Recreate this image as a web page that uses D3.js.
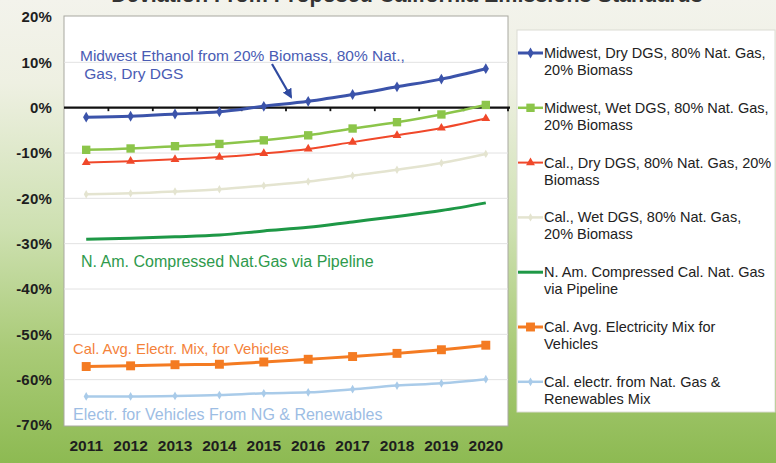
<!DOCTYPE html>
<html lang="en">
<head>
    <meta charset="UTF-8">
    <script src="https://cdn.jsdelivr.net/npm/d3@7"></script>
    <title>Deviation From Proposed California Emissions Standards</title>
    <style>
        body { margin: 0; overflow: hidden; }
        svg { display: block; font-family: "Liberation Sans", Arial, sans-serif; }
        .ylab { font-weight: bold; font-size: 15px; fill: #1e1e1e; letter-spacing: 0.2px; }
        .xlab { font-weight: bold; font-size: 15.5px; fill: #1e1e1e; }
        .legtext { font-size: 14.5px; fill: #222; }
    </style>
</head>
<body>
<div id="chart"></div>
<script>
    /*------------------- data --------------------*/
    const years = ["2011", "2012", "2013", "2014", "2015", "2016", "2017", "2018", "2019", "2020"];
    const yTicks = [20, 10, 0, -10, -20, -30, -40, -50, -60, -70];

    const midwestDry = [-2.1, -1.9, -1.4, -0.9, 0.3, 1.4, 2.9, 4.6, 6.3, 8.6];
    const midwestWet = [-9.3, -9.0, -8.5, -8.0, -7.2, -6.1, -4.6, -3.2, -1.5, 0.6];
    const calDry = [-12.1, -11.8, -11.4, -10.9, -10.1, -9.1, -7.6, -6.1, -4.5, -2.4];
    const calWet = [-19.1, -18.9, -18.5, -18.0, -17.2, -16.3, -15.0, -13.7, -12.2, -10.2];
    const cngPipeline = [-29.0, -28.8, -28.5, -28.1, -27.2, -26.4, -25.2, -24.0, -22.7, -21.0];
    const calElecMix = [-57.1, -56.95, -56.7, -56.6, -56.1, -55.5, -54.9, -54.2, -53.4, -52.4];
    const calElecNgRen = [-63.7, -63.7, -63.6, -63.4, -63.0, -62.8, -62.1, -61.3, -60.8, -59.9];

    const seriesNames = [
        ["Midwest, Dry DGS, 80% Nat. Gas,", "20% Biomass"],
        ["Midwest, Wet DGS, 80% Nat. Gas,", "20% Biomass"],
        ["Cal., Dry DGS, 80% Nat. Gas, 20%", "Biomass"],
        ["Cal., Wet DGS, 80% Nat. Gas,", "20% Biomass"],
        ["N. Am. Compressed Cal. Nat. Gas", "via Pipeline"],
        ["Cal. Avg. Electricity Mix for", "Vehicles"],
        ["Cal. electr. from Nat. Gas &", "Renewables Mix"]
    ];

    const series = [
        { values: midwestDry, color: "#3b53aa", width: 3, marker: "diamond", size: 34 },
        { values: midwestWet, color: "#8cc54a", width: 2.5, marker: "square", size: 70 },
        { values: calDry, color: "#f0482a", width: 2, marker: "triangle", size: 34 },
        { values: calWet, color: "#e4e4d0", width: 2.5, marker: "diamond", size: 20 },
        { values: cngPipeline, color: "#1e9846", width: 3, marker: null, size: 0 },
        { values: calElecMix, color: "#f47b22", width: 3, marker: "square", size: 80 },
        { values: calElecNgRen, color: "#a9cbe9", width: 2.5, marker: "diamond", size: 22 }
    ];

    /*------------------- svg setting --------------------*/
    const width = 776, height = 463;
    const plot = { left: 64, right: 508, top: 17, bottom: 425 };

    const svg = d3.select("#chart").append("svg")
        .attr("width", width)
        .attr("height", height);

    // background: cream at the top fading into green
    const defs = svg.append("defs");
    const bg = defs.append("linearGradient")
        .attr("id", "bg").attr("x1", 0).attr("y1", 0).attr("x2", 0).attr("y2", 1);
    bg.append("stop").attr("offset", "0%").attr("stop-color", "#f3f3ec");
    bg.append("stop").attr("offset", "18%").attr("stop-color", "#eef0e2");
    bg.append("stop").attr("offset", "50%").attr("stop-color", "#cde0b0");
    bg.append("stop").attr("offset", "75%").attr("stop-color", "#aacb78");
    bg.append("stop").attr("offset", "100%").attr("stop-color", "#8dba52");
    svg.append("rect").attr("width", width).attr("height", height).attr("fill", "url(#bg)");

    // title, cut off at the very top as in the original picture
    svg.append("text")
        .attr("x", 407).attr("y", 2)
        .attr("text-anchor", "middle")
        .attr("font-weight", "bold")
        .attr("font-size", 21.5)
        .attr("fill", "#333")
        .text("Deviation From Proposed California Emissions Standards");

    /*------------------- scales --------------------*/
    const x = d3.scaleBand().domain(years).range([plot.left, plot.right]);
    const y = d3.scaleLinear().domain([-70, 20]).range([plot.bottom, plot.top]);
    const cx = d => x(d) + x.bandwidth() / 2;

    // plot area
    svg.append("rect")
        .attr("x", plot.left).attr("y", plot.top - 1)
        .attr("width", plot.right - plot.left).attr("height", plot.bottom - plot.top + 2)
        .attr("fill", "#fff")
        .attr("stroke", "#a8a8a0").attr("stroke-width", 1);

    // grid lines
    svg.append("g").selectAll("line")
        .data(yTicks.filter(t => t !== 20 && t !== -70 && t !== 0))
        .join("line")
        .attr("x1", plot.left).attr("x2", plot.right)
        .attr("y1", d => y(d)).attr("y2", d => y(d))
        .attr("stroke", "#e2e2e2").attr("stroke-width", 1);

    // y axis labels
    const yAxis = d3.axisLeft(y).tickValues(yTicks).tickSize(0).tickPadding(12)
        .tickFormat(d => d + "%");
    svg.append("g")
        .attr("transform", `translate(${plot.left},0)`)
        .call(yAxis)
        .call(g => g.select(".domain").remove())
        .call(g => g.selectAll("text").attr("class", "ylab").attr("font-family", null).attr("font-size", null));

    // x axis labels
    const xAxis = d3.axisBottom(x).tickSize(0).tickPadding(0);
    svg.append("g")
        .attr("transform", `translate(0,${plot.bottom + 15})`)
        .call(xAxis)
        .call(g => g.select(".domain").remove())
        .call(g => g.selectAll("text").attr("class", "xlab").attr("font-family", null).attr("font-size", null));

    // zero line with tick marks at category boundaries
    svg.append("line")
        .attr("x1", plot.left).attr("x2", plot.right + 2)
        .attr("y1", y(0)).attr("y2", y(0))
        .attr("stroke", "#111").attr("stroke-width", 2.2);
    svg.append("g").selectAll("line")
        .data(years.slice(1))
        .join("line")
        .attr("x1", d => x(d)).attr("x2", d => x(d))
        .attr("y1", y(0)).attr("y2", y(0) + 3.5)
        .attr("stroke", "#111").attr("stroke-width", 1.8);
    svg.append("line")
        .attr("x1", plot.right).attr("x2", plot.right)
        .attr("y1", y(0)).attr("y2", y(0) + 3.5)
        .attr("stroke", "#111").attr("stroke-width", 1.8);

    /*------------------- lines --------------------*/
    const line = d3.line()
        .x((d, i) => cx(years[i]))
        .y(d => y(d))
        .curve(d3.curveMonotoneX);

    const symbolOf = m => m === "diamond" ? d3.symbolDiamond : m === "square" ? d3.symbolSquare : d3.symbolTriangle;

    // draw bottom series first so the upper ones sit on top
    series.slice().reverse().forEach(s => {
        svg.append("path")
            .attr("d", line(s.values))
            .attr("fill", "none")
            .attr("stroke", s.color)
            .attr("stroke-width", s.width);
        if (s.marker) {
            svg.append("g").selectAll("path")
                .data(s.values)
                .join("path")
                .attr("transform", (d, i) => `translate(${cx(years[i])},${y(d)})`)
                .attr("d", d3.symbol().type(symbolOf(s.marker)).size(s.size))
                .attr("fill", s.color);
        }
    });

    /*------------------- annotations --------------------*/
    const notes = [
        { lines: ["Midwest Ethanol from 20% Biomass, 80% Nat.,", " Gas, Dry DGS"], x: 80, y: 61, size: 15.5, color: "#4a5cb4" },
        { lines: ["N. Am. Compressed Nat.Gas via Pipeline"], x: 81, y: 267, size: 16, color: "#2e9a4c" },
        { lines: ["Cal. Avg. Electr. Mix, for Vehicles"], x: 73, y: 354, size: 14.8, color: "#f4823a" },
        { lines: ["Electr. for Vehicles From NG & Renewables"], x: 73, y: 420, size: 16, color: "#9dbde4" }
    ];
    notes.forEach(n => {
        const t = svg.append("text").attr("font-size", n.size).attr("fill", n.color)
            .attr("x", n.x).attr("y", n.y);
        n.lines.forEach((l, i) => {
            t.append("tspan").attr("x", n.x).attr("dy", i === 0 ? 0 : 18)
                .attr("xml:space", "preserve").text(l);
        });
    });

    // arrow from the ethanol note to the blue line
    defs.append("marker")
        .attr("id", "arrow").attr("viewBox", "0 0 10 10")
        .attr("refX", 8).attr("refY", 5)
        .attr("markerWidth", 4.5).attr("markerHeight", 4.5)
        .attr("orient", "auto")
        .append("path").attr("d", "M0,0L10,5L0,10z").attr("fill", "#2f4aa0");
    svg.append("line")
        .attr("x1", 272).attr("y1", 64).attr("x2", 291).attr("y2", 97)
        .attr("stroke", "#2f4aa0").attr("stroke-width", 2.2)
        .attr("marker-end", "url(#arrow)");

    /*------------------- legend --------------------*/
    const legend = svg.append("g");
    legend.append("rect")
        .attr("x", 517).attr("y", 30).attr("width", 258).attr("height", 382)
        .attr("fill", "#fff").attr("stroke", "#dcdcd4");

    series.forEach((s, i) => {
        const ly = 53 + i * 54.8;
        const g = legend.append("g").attr("transform", `translate(0,${ly})`);
        g.append("line")
            .attr("x1", 518).attr("x2", 543).attr("y1", 0).attr("y2", 0)
            .attr("stroke", s.color).attr("stroke-width", s.width);
        if (s.marker) {
            g.append("path")
                .attr("transform", "translate(530.5,0)")
                .attr("d", d3.symbol().type(symbolOf(s.marker)).size(s.size))
                .attr("fill", s.color);
        }
        const t = g.append("text").attr("class", "legtext").attr("x", 544).attr("y", 5);
        seriesNames[i].forEach((l, k) => {
            t.append("tspan").attr("x", 544).attr("dy", k === 0 ? 0 : 17).text(l);
        });
    });
</script>
</body>
</html>
